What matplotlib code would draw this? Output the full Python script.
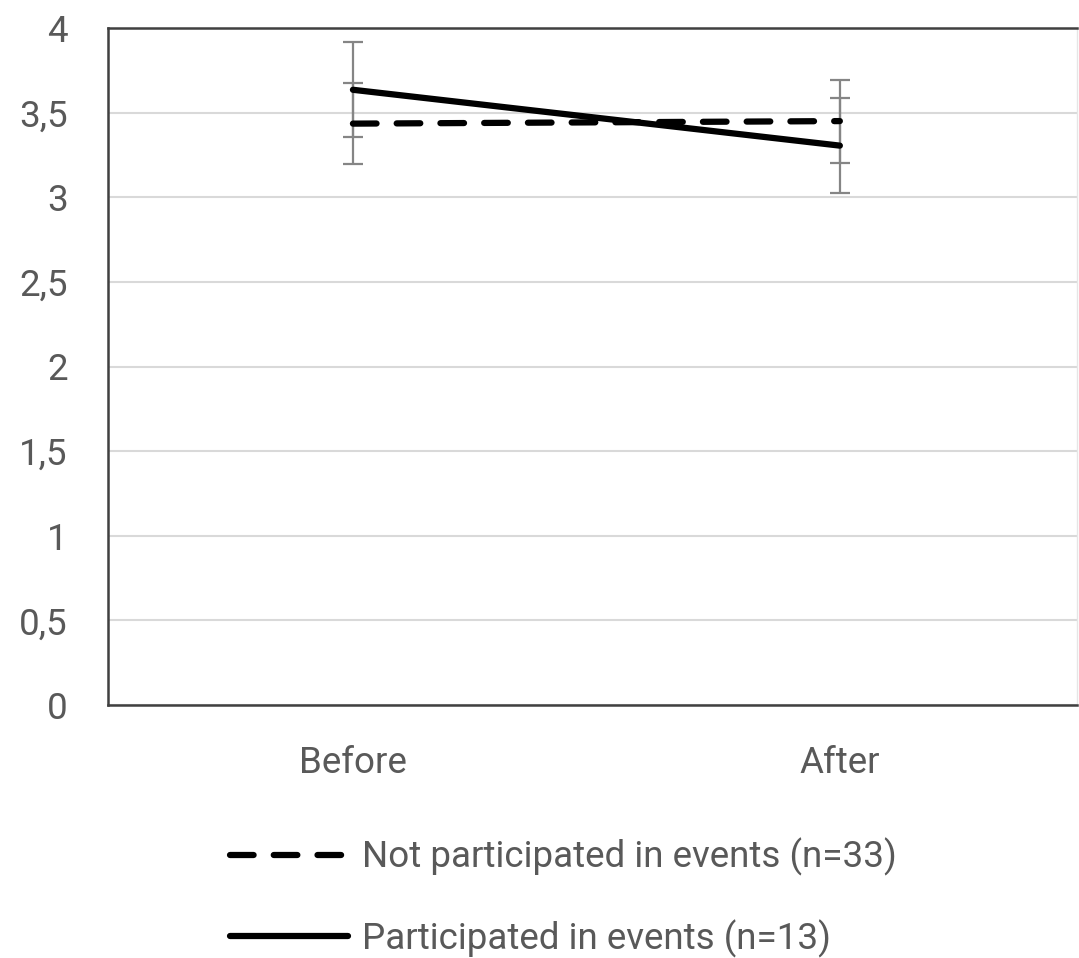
import matplotlib
matplotlib.use("Agg")
import matplotlib.pyplot as plt
import numpy as np

categories = ["Before", "After"]
not_part = [3.435, 3.45]
not_part_err = [0.24, 0.245]
part = [3.635, 3.305]
part_err = [0.28, 0.28]
labels = ["Not participated in events (n=33)", "Participated in events (n=13)"]
yticks = [0, 0.5, 1, 1.5, 2, 2.5, 3, 3.5, 4]
ytick_labels = ["0", "0,5", "1", "1,5", "2", "2,5", "3", "3,5", "4"]

plt.rcParams['font.family'] = ['Roboto', 'DejaVu Sans']
plt.rcParams['lines.scale_dashes'] = False

fig = plt.figure(figsize=(10.79, 9.58), dpi=100)
ax = fig.add_axes([108/1079, 1-705/958, 969/1079, 677/958])

x = np.arange(len(categories))
grey = "#858585"
ax.errorbar(x, not_part, yerr=not_part_err, fmt='none', ecolor=grey, elinewidth=1.6,
            capsize=7.5, capthick=1.6, zorder=2)
ax.errorbar(x, part, yerr=part_err, fmt='none', ecolor=grey, elinewidth=1.6,
            capsize=7.5, capthick=1.6, zorder=2)
l1, = ax.plot(x, not_part, color='black', lw=4.5, dashes=(17, 14.5),
              dash_capstyle='round', solid_capstyle='round', zorder=3, label=labels[0])
l2, = ax.plot(x, part, color='black', lw=4.5, solid_capstyle='round', zorder=3, label=labels[1])

ax.set_xlim(-0.503, 1.487)
ax.set_ylim(0, 4)
ax.set_yticks(yticks)
ax.set_yticklabels(ytick_labels)
ax.set_xticks(x)
ax.set_xticklabels(categories)
ax.tick_params(axis='both', length=0, labelsize=26.5, labelcolor='#595959')
ax.tick_params(axis='y', pad=29)
ax.tick_params(axis='x', pad=29)
ax.grid(axis='y', color='#d9d9d9', lw=1.5)
ax.set_axisbelow(True)
for s in ['left', 'bottom', 'top']:
    ax.spines[s].set_color('#404040')
    ax.spines[s].set_linewidth(1.8)
ax.spines['right'].set_color('#e6e6e6')
ax.spines['right'].set_linewidth(1.0)

leg = fig.legend(handles=[l1, l2], loc='upper left', bbox_to_anchor=(230/1079, 1-838/958),
                 frameon=False, fontsize=26.5, labelcolor='#595959', handlelength=3.2,
                 handletextpad=0.4, labelspacing=1.17, borderpad=0, borderaxespad=0)

fig.savefig("out.png", dpi=100)
